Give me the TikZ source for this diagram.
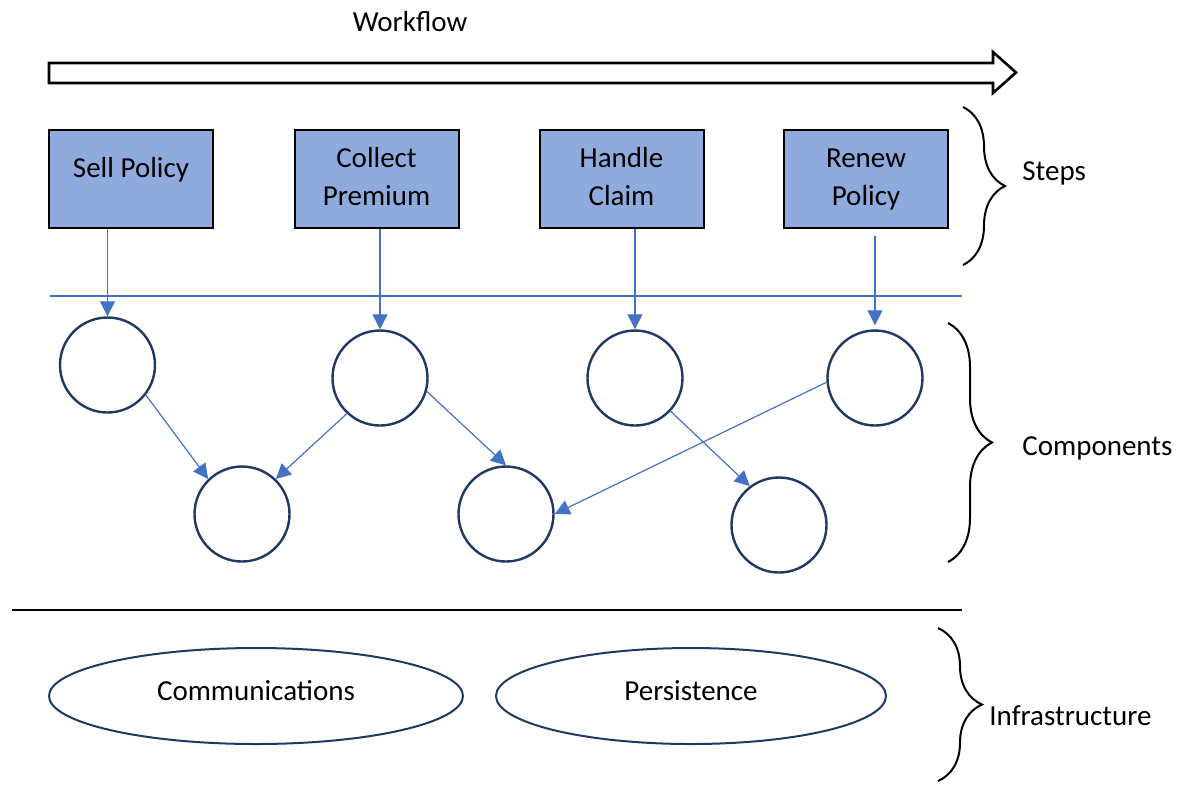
\documentclass[tikz,border=0pt]{standalone}
\usepackage{fontspec}
\setmainfont{Carlito}
\usetikzlibrary{arrows.meta,shapes.geometric,decorations.pathreplacing}

\definecolor{stepfill}{HTML}{8FAADC}
\definecolor{linkblue}{HTML}{4472C4}
\definecolor{ringnavy}{HTML}{203864}

% lift a text line without changing its box
\newcommand{\liftline}[2]{\raisebox{#1}[\height][\depth]{#2}}

\begin{document}
\begin{tikzpicture}[x=0.5pt, y=-0.5pt,
    every node/.style={font=\fontsize{14.5}{19}\selectfont},
    stepbox/.style={draw=black, line width=1pt, fill=stepfill, minimum width=82pt, minimum height=49pt, align=center, inner sep=0pt},
    comp/.style={circle, draw=ringnavy, line width=1.2pt, minimum size=47.5pt, inner sep=0pt},
    infra/.style={ellipse, draw=ringnavy, line width=1pt, minimum width=207pt, minimum height=48pt},
    link/.style={draw=linkblue, line width=0.6pt, -{Triangle[length=7.5pt, width=7.5pt]}},
    layer/.style={decorate, decoration={brace, amplitude=21pt}, line width=1pt},
    tag/.style={anchor=west, inner sep=0pt}
]

    % Fix the page to the picture frame
    \useasboundingbox (0,0) rectangle (1178,784);

    % Workflow arrow on top
    \node (flow) at (410,22) {Workflow};
    \draw[line width=1.3pt, fill=white] (49,63) -- (993,63) -- (993,52) -- (1016,72.5)
        -- (993,93) -- (993,83) -- (49,83) -- cycle;

    % The four steps
    \node[stepbox] (sell) at (131,178.5) {\liftline{4.5pt}{\strut Sell Policy}};
    \node[stepbox] (collect) at (376.5,178.5) {\strut Collect\\\strut Premium};
    \node[stepbox] (handle) at (621.5,178.5) {\strut Handle\\\strut Claim};
    \node[stepbox] (renew) at (866,178.5) {\strut Renew\\\strut Policy};

    % Separator between steps and components
    \coordinate (sepA) at (50,296);
    \coordinate (sepB) at (962,296);
    \draw[linkblue, line width=0.6pt] (sepA) -- (sepB);

    % Components, upper row
    \node[comp] (c1) at (107.5,365) {};
    \node[comp] (c2) at (380,378) {};
    \node[comp] (c3) at (635,378) {};
    \node[comp] (c4) at (875,378) {};

    % Components, lower row
    \node[comp] (c5) at (242,514) {};
    \node[comp] (c6) at (506,514) {};
    \node[comp] (c7) at (779,525) {};

    % Steps call components
    \draw[link] (c1 |- sell.south) -- (c1.north);
    \draw[link] (c2 |- collect.south) -- (c2.north);
    \draw[link] (c3 |- handle.south) -- (c3.north);
    \draw[link] ([yshift=-3.5pt]c4 |- renew.south) -- ([yshift=2pt]c4.north);

    % Components call components
    \draw[link] (c1.-38) -- (c5.134);
    \draw[link] (c2.-133) -- (c5.46);
    \draw[link] (c2.-16) -- (c6.north);
    \draw[link] (c4.185) -- (c6.east);
    \draw[link] (c3.-43) -- (c7.127);

    % Separator above infrastructure
    \coordinate (sepC) at (12,610);
    \coordinate (sepD) at (962,610);
    \draw[line width=1pt] (sepC) -- (sepD);

    % Infrastructure services
    \node[infra] (comms) at (256,696) {\liftline{2.5pt}{Communications}};
    \node[infra, minimum width=195pt] (persist) at (691,696) {\liftline{2.5pt}{Persistence}};

    % Braces and layer names
    \draw[layer] (963,107) -- (963,265);
    \draw[layer, decoration={amplitude=22pt}] (948,323) -- (948,562);
    \draw[layer, decoration={amplitude=22pt}] (938,628) -- (938,781);
    \node[tag] (steps) at (1022,173) {Steps};
    \node[tag] (components) at (1022,448) {Components};
    \node[tag] (infrastructure) at (989,716) {Infrastructure};

\end{tikzpicture}
\end{document}
